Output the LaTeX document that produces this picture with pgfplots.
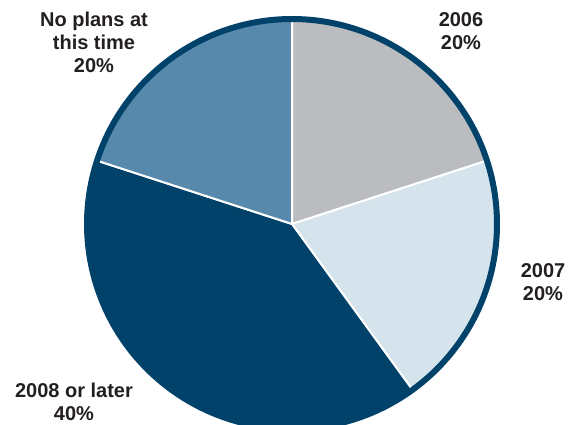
\documentclass[border=0pt]{standalone}
\usepackage{pgfplots}
\pgfplotsset{compat=1.18}
\usepackage{fontspec}
\setmainfont{Liberation Sans}
\definecolor{navy}{HTML}{00426A}
\definecolor{midblue}{HTML}{5689AB}
\definecolor{pgray}{HTML}{BBBCC0}
\definecolor{lightblue}{HTML}{D4E3EC}
\definecolor{textc}{HTML}{231F20}
\begin{document}
\begin{tikzpicture}
\def\cx{292}\def\cy{201}\def\R{208}
% values (percent), clockwise from top: 2006, 2007, 2008 or later, No plans
\def\vA{20}\def\vB{20}\def\vC{40}\def\vD{20}
\pgfmathsetmacro{\aA}{90}
\pgfmathsetmacro{\aB}{\aA-3.6*\vA}
\pgfmathsetmacro{\aC}{\aB-3.6*\vB}
\pgfmathsetmacro{\aD}{\aC-3.6*\vC}
\pgfmathsetmacro{\aE}{\aD-3.6*\vD}
\begin{axis}[width=578pt,height=425pt,scale only axis,
  xmin=0,xmax=578,ymin=0,ymax=425,hide axis]
\addplot[fill=pgray,draw=white,line width=2pt,line join=round,domain=\aB:\aA,samples=80,variable=\t]
  ({\cx+\R*cos(\t)},{\cy+\R*sin(\t)}) -- (axis cs:\cx,\cy) -- cycle;
\addplot[fill=lightblue,draw=white,line width=2pt,line join=round,domain=\aC:\aB,samples=80,variable=\t]
  ({\cx+\R*cos(\t)},{\cy+\R*sin(\t)}) -- (axis cs:\cx,\cy) -- cycle;
\addplot[fill=navy,draw=white,line width=2pt,line join=round,domain=\aD:\aC,samples=150,variable=\t]
  ({\cx+\R*cos(\t)},{\cy+\R*sin(\t)}) -- (axis cs:\cx,\cy) -- cycle;
\addplot[fill=midblue,draw=white,line width=2pt,line join=round,domain=\aE:\aD,samples=80,variable=\t]
  ({\cx+\R*cos(\t)},{\cy+\R*sin(\t)}) -- (axis cs:\cx,\cy) -- cycle;
\addplot[draw=navy,line width=6pt,domain=0:360,samples=300,variable=\t]
  ({\cx+(\R-3)*cos(\t)},{\cy+(\R-3)*sin(\t)});
\tikzset{lbl/.style={anchor=north,align=center,inner sep=0pt,text=textc,
  font=\fontsize{20}{23}\selectfont\bfseries}}
\node[lbl] at (axis cs:94,413) {No plans at\\this time\\20\%};
\node[lbl] at (axis cs:461,413) {2006\\20\%};
\node[lbl] at (axis cs:543,162) {2007\\20\%};
\node[lbl] at (axis cs:74,42) {2008 or later\\40\%};
\end{axis}
\pgfresetboundingbox
\path[use as bounding box] (current axis.south west) rectangle (current axis.north east);
\end{tikzpicture}
\end{document}
